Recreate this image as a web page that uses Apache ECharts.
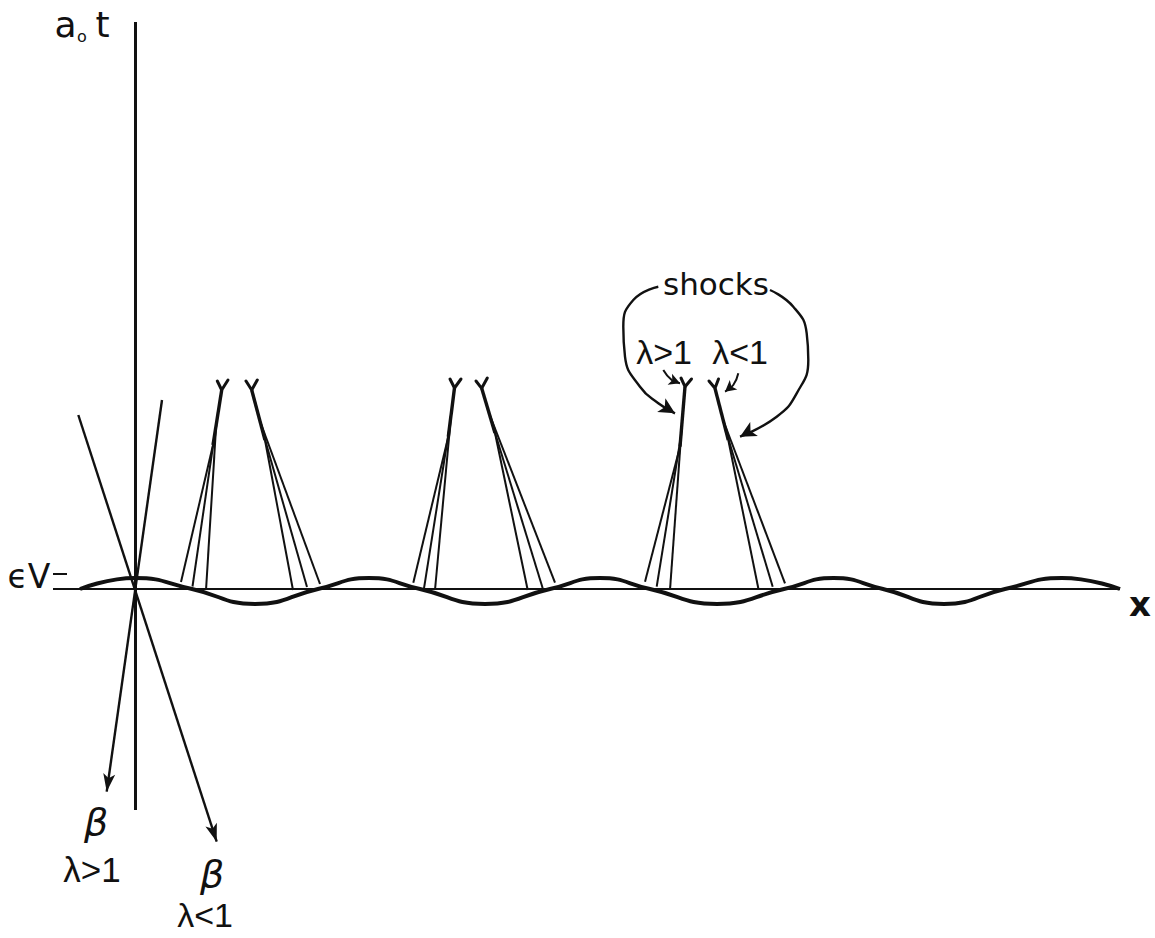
<!DOCTYPE html>
<html><head><meta charset="utf-8">
<script src="https://cdn.jsdelivr.net/npm/echarts@6/dist/echarts.min.js"></script>
<style>html,body{margin:0;padding:0;background:#fff}#c{width:1155px;height:938px}</style>
</head><body><div id="c"></div>
<script>
// Schematic units: x and y measured from the origin (x axis / a0 t axis crossing)
// Perturbation wave eV(x): crossings and extrema
const waveX = [-0.55, 0.0, 0.57, 1.20, 1.83, 2.34, 2.85, 3.50, 4.15, 4.65, 5.15, 5.82, 6.49, 6.985, 7.48, 8.09, 8.70, 9.27, 9.85];
const waveY = [0, 0.11, 0, -0.15, 0, 0.11, 0, -0.15, 0, 0.11, 0, -0.15, 0, 0.11, 0, -0.15, 0, 0.11, 0];
// axes
const xAxisLine = [[-0.82, 0], [9.85, 0]];
const tAxisLine = [[0, -2.21], [0, 5.67]];
const epsVTick = [[-0.82, 0.15], [-0.68, 0.15]];
// characteristics through the origin (beta, lambda>1 and lambda<1)
const betaStart = [[0.27, 1.89], [-0.567, 1.74]];
const betaEnd = [[-0.283, -2.027], [0.817, -2.527]];
// shock fans: apex (shock tip), Y arms, stem end, ray feet and ray joins
const fanApex = [[0.867, 1.99], [1.167, 1.99], [3.195, 2.01], [3.467, 2.007], [5.50, 2.023], [5.80, 2.007]];
const fanArmL = [[0.823, 2.08], [1.11, 2.08], [3.15, 2.10], [3.41, 2.08], [5.46, 2.11], [5.74, 2.08]];
const fanArmR = [[0.93, 2.09], [1.223, 2.09], [3.26, 2.10], [3.523, 2.11], [5.565, 2.10], [5.835, 2.10]];
const fanStemEnd = [[0.78, 1.44], [1.30, 1.49], [3.133, 1.523], [3.60, 1.56], [5.45, 1.423], [5.933, 1.49]];
const rayFeet = [
  [[0.46, 0.07], [0.575, 0.025], [0.71, -0.01]],
  [[1.58, -0.01], [1.72, 0.02], [1.85, 0.05]],
  [[2.783, 0.063], [2.89, 0.007], [3.0, -0.01]],
  [[3.927, -0.01], [4.077, 0.007], [4.20, 0.063]],
  [[5.10, 0.073], [5.217, 0.023], [5.35, -0.01]],
  [[6.233, 0.007], [6.377, 0.023], [6.50, 0.057]]
];
const rayJoins = [
  [[0.78, 1.44], [0.796, 1.54], [0.812, 1.64]],
  [[1.30, 1.49], [1.273, 1.59], [1.246, 1.69]],
  [[3.133, 1.523], [3.147, 1.63], [3.16, 1.73]],
  [[3.60, 1.56], [3.57, 1.66], [3.54, 1.76]],
  [[5.45, 1.423], [5.46, 1.53], [5.468, 1.63]],
  [[5.933, 1.49], [5.907, 1.59], [5.881, 1.69]]
];
// "shocks" pointer curves
const curveLeft = [[5.233, 3.023], [4.983, 2.89], [4.883, 2.623], [4.90, 2.323], [5.05, 2.023], [5.233, 1.857], [5.40, 1.757]];
const curveRight = [[6.35, 2.99], [6.583, 2.823], [6.717, 2.557], [6.733, 2.29], [6.617, 1.957], [6.417, 1.723], [6.05, 1.523]];
const curveSmallL = [[5.283, 2.19], [5.367, 2.09], [5.45, 2.057]];
const curveSmallR = [[6.033, 2.157], [5.983, 2.04], [5.90, 1.973]];

const INK = '#111';
const chart = echarts.init(document.getElementById('c'), null, {renderer: 'svg'});

function seg(a, b, w) { return {coords: [a, b], lineStyle: {width: w}}; }
const straight = [];
straight.push(seg(xAxisLine[0], xAxisLine[1], 2));
straight.push(seg(tAxisLine[0], tAxisLine[1], 3));
straight.push(seg(epsVTick[0], epsVTick[1], 2));
for (let i = 0; i < fanApex.length; i++) {
  straight.push(seg(fanApex[i], fanStemEnd[i], 3.4));
  for (let j = 0; j < rayFeet[i].length; j++) {
    straight.push(seg(rayJoins[i][j], rayFeet[i][j], 2));
  }
}
const yShapes = fanApex.map((a, i) => ({coords: [fanArmL[i], a, fanArmR[i]]}));
const betaLines = betaStart.map((s, i) => ({coords: [s, betaEnd[i]]}));
function headOf(c) { return {coords: [c[c.length - 2], c[c.length - 1]]}; }
const heads = [headOf(curveLeft), headOf(curveRight)];
const smallHeads = [headOf(curveSmallL), headOf(curveSmallR)];

function curve(d, w) {
  return {type: 'line', data: d, smooth: 0.5, symbol: 'none', silent: true,
    lineStyle: {color: INK, width: w}, clip: false};
}
const FONT = 'DejaVu Sans';
function txt(text, x, y, size, extra) {
  return Object.assign({type: 'text', x: x, y: y, silent: true,
    style: Object.assign({text: text, fill: INK, fontFamily: FONT, fontSize: size,
      textAlign: 'center', textVerticalAlign: 'middle'}, extra || {})});
}

chart.setOption({
  animation: false,
  backgroundColor: '#fff',
  grid: {left: 0, right: 0, top: 0, bottom: 0},
  xAxis: {type: 'value', min: -1.35, max: 10.2, show: false},
  yAxis: {type: 'value', min: -3.49, max: 5.89, show: false},
  series: [
    {type: 'line', data: waveX.map((x, i) => [x, waveY[i]]), smooth: 0.5, symbol: 'none', silent: true,
      lineStyle: {color: INK, width: 4}},
    {type: 'lines', coordinateSystem: 'cartesian2d', silent: true, data: straight,
      lineStyle: {color: INK, opacity: 1, width: 2}},
    {type: 'lines', coordinateSystem: 'cartesian2d', polyline: true, silent: true, data: yShapes,
      lineStyle: {color: INK, opacity: 1, width: 3, join: 'round', cap: 'round'}},
    {type: 'lines', coordinateSystem: 'cartesian2d', silent: true, data: betaLines,
      symbol: ['none', 'arrow'], symbolSize: [1, [9, 18]],
      lineStyle: {color: INK, opacity: 1, width: 2.4}},
    curve(curveLeft, 2.4), curve(curveRight, 2.4), curve(curveSmallL, 2), curve(curveSmallR, 2),
    {type: 'lines', coordinateSystem: 'cartesian2d', silent: true, data: heads,
      symbol: ['none', 'arrow'], symbolSize: [1, [12, 16]],
      lineStyle: {color: INK, opacity: 1, width: 0}},
    {type: 'lines', coordinateSystem: 'cartesian2d', silent: true, data: smallHeads,
      symbol: ['none', 'arrow'], symbolSize: [1, [9, 11]],
      lineStyle: {color: INK, opacity: 1, width: 0}}
  ],
  graphic: [
    txt('a', 65.5, 24.5, 36),
    txt('o', 82, 36.5, 16),
    txt('t', 102.5, 24.5, 36),
    txt('ϵV', 29, 576, 33),
    txt('x', 1140, 604, 34, {fontWeight: 'bold'}),
    txt('shocks', 716, 284, 31),
    txt('λ>1', 664, 352, 34, {fontFamily: 'Liberation Sans'}),
    txt('λ<1', 740, 352, 34, {fontFamily: 'Liberation Sans'}),
    txt('β', 96, 822, 38, {fontStyle: 'italic'}),
    txt('λ>1', 92, 869, 35, {fontFamily: 'Liberation Sans'}),
    txt('β', 212, 874, 38, {fontStyle: 'italic'}),
    txt('λ<1', 205, 915, 34, {fontFamily: 'Liberation Sans'})
  ]
});
</script>
</body></html>
